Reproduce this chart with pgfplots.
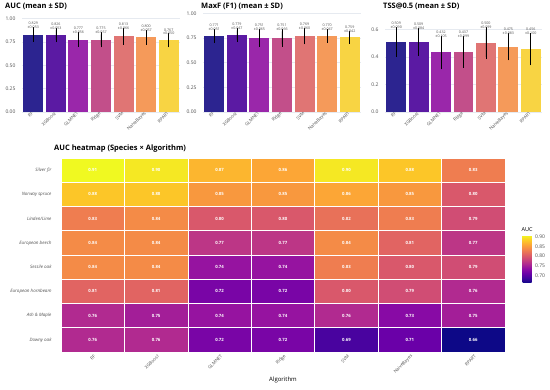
\documentclass[border=0pt]{standalone}
\usepackage{fontspec}
\setmainfont{Open Sans}
\usepackage{pgfplots}
\usepackage{pgfplotstable}
\pgfplotsset{compat=1.18}

\definecolor{c0}{HTML}{2C2490}
\definecolor{c1}{HTML}{5B1AA3}
\definecolor{c2}{HTML}{9A27AA}
\definecolor{c3}{HTML}{C24F8A}
\definecolor{c4}{HTML}{E07574}
\definecolor{c5}{HTML}{F59A5A}
\definecolor{c6}{HTML}{F8D443}
\definecolor{gridc}{HTML}{E6EAF0}
\definecolor{tickc}{HTML}{505050}

\pgfplotstableread{
x m sd
0 0.829 0.053
1 0.826 0.053
2 0.777 0.056
3 0.775 0.057
4 0.813 0.066
5 0.800 0.057
6 0.767 0.050
}\aucdata
\pgfplotstableread{
x m sd
0 0.771 0.051
1 0.779 0.047
2 0.751 0.065
3 0.751 0.066
4 0.769 0.060
5 0.770 0.047
6 0.759 0.042
}\maxfdata
\pgfplotstableread{
x m sd
0 0.509 0.090
1 0.509 0.084
2 0.432 0.105
3 0.437 0.099
4 0.500 0.099
5 0.475 0.083
6 0.456 0.100
}\tssdata

% heatmap: y=0 Silver fir ... y=7 Downy oak
\pgfplotstableread{
x y z
0 0 0.91
1 0 0.90
2 0 0.87
3 0 0.86
4 0 0.90
5 0 0.88
6 0 0.83
0 1 0.88
1 1 0.88
2 1 0.85
3 1 0.85
4 1 0.86
5 1 0.85
6 1 0.80
0 2 0.83
1 2 0.84
2 2 0.80
3 2 0.80
4 2 0.82
5 2 0.83
6 2 0.79
0 3 0.84
1 3 0.84
2 3 0.77
3 3 0.77
4 3 0.84
5 3 0.81
6 3 0.77
0 4 0.84
1 4 0.84
2 4 0.74
3 4 0.74
4 4 0.83
5 4 0.80
6 4 0.79
0 5 0.81
1 5 0.81
2 5 0.72
3 5 0.72
4 5 0.80
5 5 0.79
6 5 0.76
0 6 0.76
1 6 0.75
2 6 0.74
3 6 0.74
4 6 0.76
5 6 0.73
6 6 0.75
0 7 0.76
1 7 0.76
2 7 0.72
3 7 0.72
4 7 0.69
5 7 0.71
6 7 0.66
}\heatdata

\pgfplotsset{
  barpanel/.style={
    scale only axis, width=158pt, height=100pt,
    anchor=north west,
    xmin=-0.5, xmax=6.5, ymin=0,
    axis line style={draw=none}, major tick length=0pt,
    ymajorgrids, grid style={gridc, line width=0.5pt},
    xtick={0,...,6},
    xticklabels={RF,XGBoost,GLMNET,Ridge,SVM,NaiveBayes,RPART},
    x tick label style={rotate=45, anchor=east, font=\fontsize{4.5}{5}\selectfont, text=tickc, inner sep=1pt},
    y tick label style={font=\fontsize{5}{6}\selectfont, text=tickc, xshift=-3pt},
    /pgf/number format/assume math mode=true,
    title style={font=\fontsize{7.5}{9}\selectfont\bfseries, anchor=base west, at={(rel axis cs:0,1)}, yshift=-2.5pt, inner sep=0pt},
    clip=false,
  },
}

\newcommand{\drawbars}[1]{%
  \pgfplotsinvokeforeach{0,...,6}{%
    \addplot[ybar, bar width=0.88, bar shift=0pt, fill=c##1, draw=none,
      restrict expr to domain={\coordindex}{##1:##1},
      error bars/.cd, y dir=both, y explicit,
      error bar style={black, line width=0.6pt},
      error mark options={black, line width=0.6pt, mark size=2.3pt}]
      table[x=x, y=m, y error=sd] {#1};
  }
  \addplot[only marks, mark=none,
    visualization depends on={\thisrow{m}\as\mval},
    visualization depends on={\thisrow{sd}\as\sval},
    nodes near coords={\pgfmathprintnumber[fixed,precision=3,fixed zerofill]{\mval}\\±\pgfmathprintnumber[fixed,precision=3,fixed zerofill]{\sval}},
    nodes near coords style={font=\fontsize{3.6}{3.9}\selectfont, align=center, anchor=south, inner sep=0.6pt, text=tickc}]
    table[x=x, y expr=\thisrow{m}+\thisrow{sd}] {#1};
}

\begin{document}
\begin{tikzpicture}
\useasboundingbox (0,0) rectangle (550pt,-390pt);

\begin{axis}[barpanel, at={(22pt,-12pt)}, ymax=1.072,
  ytick={0,0.25,0.5,0.75,1},
  yticklabel style={/pgf/number format/fixed, /pgf/number format/precision=2, /pgf/number format/fixed zerofill},
  title={AUC (mean ± SD)}, title style={xshift=-17pt}]
\drawbars{\aucdata}
\end{axis}

\begin{axis}[barpanel, at={(203pt,-12pt)}, ymax=1.013,
  ytick={0,0.25,0.5,0.75,1},
  yticklabel style={/pgf/number format/fixed, /pgf/number format/precision=2, /pgf/number format/fixed zerofill},
  title={MaxF (F1) (mean ± SD)}, title style={xshift=-2pt}]
\drawbars{\maxfdata}
\end{axis}

\begin{axis}[barpanel, at={(385pt,-12pt)}, width=157pt, ymax=0.726,
  ytick={0,0.2,0.4,0.6},
  yticklabel style={/pgf/number format/fixed, /pgf/number format/precision=1, /pgf/number format/fixed zerofill},
  title={TSS@0.5 (mean ± SD)}, title style={xshift=-2pt}]
\drawbars{\tssdata}
\end{axis}

\begin{axis}[
  at={(61pt,-158pt)}, anchor=north west, scale only axis, width=444pt, height=194pt,
  xmin=-0.5, xmax=6.5, ymin=-0.5, ymax=7.5, y dir=reverse, enlargelimits=false,
  axis line style={draw=none}, major tick length=0pt,
  xtick={0,...,6},
  xticklabels={RF,XGBoost,GLMNET,Ridge,SVM,NaiveBayes,RPART},
  x tick label style={rotate=45, anchor=east, font=\fontsize{4.5}{5}\selectfont, text=tickc, inner sep=1pt, yshift=-4pt},
  ytick={0,...,7},
  yticklabels={Silver fir,Norway spruce,Linden/Lime,European beech,Sessile oak,European hornbeam,Ash \& Maple,Downy oak},
  y tick label style={font=\fontsize{4.5}{5}\selectfont\itshape, text=tickc, xshift=-6pt},
  xlabel={Algorithm}, xlabel style={font=\fontsize{6}{7}\selectfont, yshift=2pt},
  /pgf/number format/assume math mode=true,
  title={AUC heatmap (Species × Algorithm)},
  title style={font=\fontsize{7.5}{9}\selectfont\bfseries, anchor=base west, at={(rel axis cs:0,1)}, yshift=1pt, xshift=-7pt, inner sep=0pt},
  colormap={plasma}{rgb255=(13,8,135) rgb255=(65,4,157) rgb255=(106,0,168) rgb255=(143,13,164) rgb255=(177,42,144) rgb255=(204,71,120) rgb255=(225,100,98) rgb255=(242,132,75) rgb255=(252,166,54) rgb255=(252,206,37) rgb255=(240,249,33)},
  point meta min=0.66, point meta max=0.91,
  colorbar,
  colorbar style={
    at={(parent axis.south east)}, anchor=south west, xshift=9pt, yshift=69pt,
    scale only axis, width=9pt, height=48pt,
    axis line style={draw=none}, major tick length=0pt,
    ytick={0.7,0.75,0.8,0.85,0.9},
    yticklabel style={font=\fontsize{5}{6}\selectfont, text=tickc, /pgf/number format/fixed, /pgf/number format/precision=2, /pgf/number format/fixed zerofill},
    /pgf/number format/assume math mode=true,
    title={AUC}, title style={font=\fontsize{5.5}{6}\selectfont, anchor=base west, at={(rel axis cs:0,1)}, xshift=-1pt, yshift=-3pt, inner sep=0pt},
  },
  clip=false,
]
\addplot[matrix plot*, mesh/cols=7, point meta=explicit, draw=white, line width=0.6pt,
  nodes near coords={\pgfmathprintnumber[fixed,precision=2,fixed zerofill]{\pgfplotspointmeta}},
  nodes near coords style={font=\fontsize{4.3}{5}\selectfont\bfseries, text=white, anchor=center}]
  table[x=x, y=y, meta=z] {\heatdata};
\end{axis}
\end{tikzpicture}
\end{document}
